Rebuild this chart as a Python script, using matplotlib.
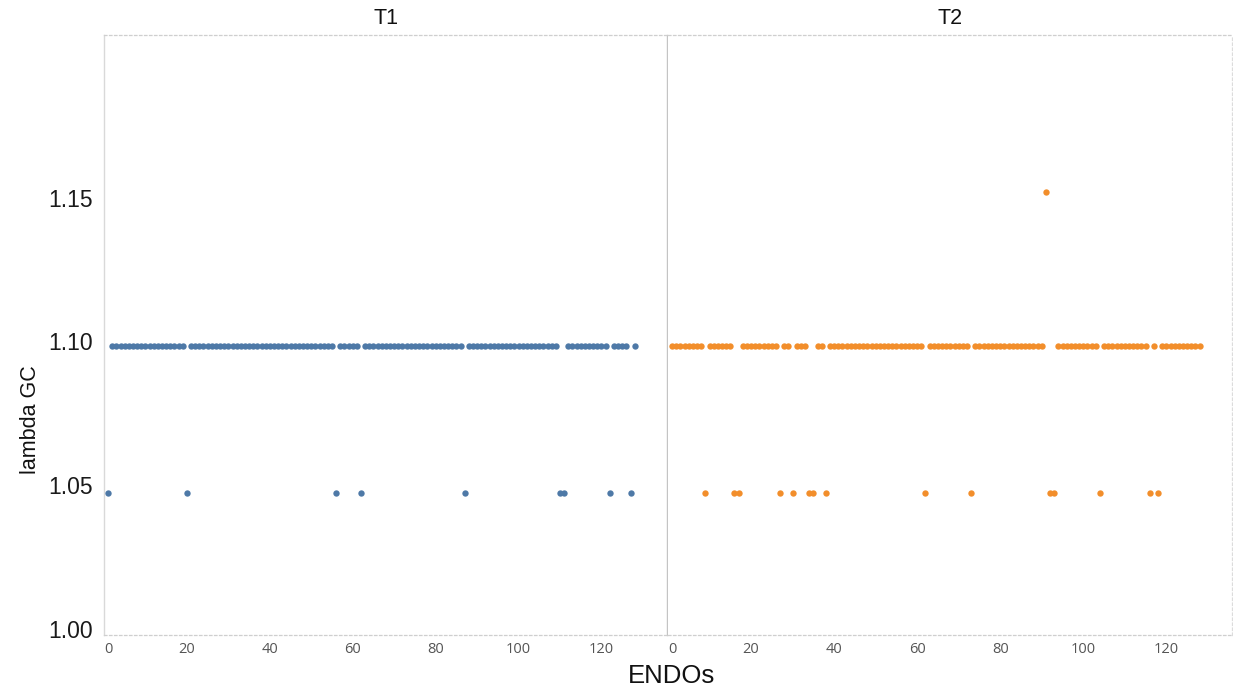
import matplotlib
matplotlib.use("Agg")
import matplotlib.pyplot as plt

# ENDO index (1..128) and genomic-control lambda for each panel
endo = list(range(1, 129))
panels = ["T1", "T2"]
colors = ["#4e79a7", "#f28e2b"]

t1_lambda = [
    1.0475, 1.0985, 1.0985, 1.0985, 1.0985, 1.0985, 1.0985, 1.0985, 1.0985, 1.0985, 1.0985, 1.0985, 1.0985, 1.0985, 1.0985, 1.0985,
    1.0985, 1.0985, 1.0985, 1.0475, 1.0985, 1.0985, 1.0985, 1.0985, 1.0985, 1.0985, 1.0985, 1.0985, 1.0985, 1.0985, 1.0985, 1.0985,
    1.0985, 1.0985, 1.0985, 1.0985, 1.0985, 1.0985, 1.0985, 1.0985, 1.0985, 1.0985, 1.0985, 1.0985, 1.0985, 1.0985, 1.0985, 1.0985,
    1.0985, 1.0985, 1.0985, 1.0985, 1.0985, 1.0985, 1.0985, 1.0475, 1.0985, 1.0985, 1.0985, 1.0985, 1.0985, 1.0475, 1.0985, 1.0985,
    1.0985, 1.0985, 1.0985, 1.0985, 1.0985, 1.0985, 1.0985, 1.0985, 1.0985, 1.0985, 1.0985, 1.0985, 1.0985, 1.0985, 1.0985, 1.0985,
    1.0985, 1.0985, 1.0985, 1.0985, 1.0985, 1.0985, 1.0475, 1.0985, 1.0985, 1.0985, 1.0985, 1.0985, 1.0985, 1.0985, 1.0985, 1.0985,
    1.0985, 1.0985, 1.0985, 1.0985, 1.0985, 1.0985, 1.0985, 1.0985, 1.0985, 1.0985, 1.0985, 1.0985, 1.0985, 1.0475, 1.0475, 1.0985,
    1.0985, 1.0985, 1.0985, 1.0985, 1.0985, 1.0985, 1.0985, 1.0985, 1.0985, 1.0475, 1.0985, 1.0985, 1.0985, 1.0985, 1.0475, 1.0985,
]

t2_lambda = [
    1.0985, 1.0985, 1.0985, 1.0985, 1.0985, 1.0985, 1.0985, 1.0985, 1.0475, 1.0985, 1.0985, 1.0985, 1.0985, 1.0985, 1.0985, 1.0475,
    1.0475, 1.0985, 1.0985, 1.0985, 1.0985, 1.0985, 1.0985, 1.0985, 1.0985, 1.0985, 1.0475, 1.0985, 1.0985, 1.0475, 1.0985, 1.0985,
    1.0985, 1.0475, 1.0475, 1.0985, 1.0985, 1.0475, 1.0985, 1.0985, 1.0985, 1.0985, 1.0985, 1.0985, 1.0985, 1.0985, 1.0985, 1.0985,
    1.0985, 1.0985, 1.0985, 1.0985, 1.0985, 1.0985, 1.0985, 1.0985, 1.0985, 1.0985, 1.0985, 1.0985, 1.0985, 1.0475, 1.0985, 1.0985,
    1.0985, 1.0985, 1.0985, 1.0985, 1.0985, 1.0985, 1.0985, 1.0985, 1.0475, 1.0985, 1.0985, 1.0985, 1.0985, 1.0985, 1.0985, 1.0985,
    1.0985, 1.0985, 1.0985, 1.0985, 1.0985, 1.0985, 1.0985, 1.0985, 1.0985, 1.0985, 1.1520, 1.0475, 1.0475, 1.0985, 1.0985, 1.0985,
    1.0985, 1.0985, 1.0985, 1.0985, 1.0985, 1.0985, 1.0985, 1.0475, 1.0985, 1.0985, 1.0985, 1.0985, 1.0985, 1.0985, 1.0985, 1.0985,
    1.0985, 1.0985, 1.0985, 1.0475, 1.0985, 1.0475, 1.0985, 1.0985, 1.0985, 1.0985, 1.0985, 1.0985, 1.0985, 1.0985, 1.0985, 1.0985,
]

x_ticks = [0, 20, 40, 60, 80, 100, 120]
y_ticks = [1.00, 1.05, 1.10, 1.15]
y_tick_labels = ["1.00", "1.05", "1.10", "1.15"]

W, H = 1233, 694
fig = plt.figure(figsize=(W / 100, H / 100), dpi=100)
fig.patch.set_facecolor("white")

top_px, bot_px = 35, 635
pane_edges = [(104, 667), (668, 1232)]
series = [t1_lambda, t2_lambda]

dotted = (0, (2, 2))
for i, ((x0, x1), vals) in enumerate(zip(pane_edges, series)):
    ax = fig.add_axes([x0 / W, 1 - bot_px / H, (x1 - x0) / W, (bot_px - top_px) / H])
    ax.scatter(endo, vals, s=21, color=colors[i], linewidths=0, zorder=3)
    ax.set_xlim(0, 135.8)
    ax.set_ylim(0.998, 1.2065)
    ax.set_xticks(x_ticks)
    labels = ax.set_xticklabels([str(t) for t in x_ticks], fontsize=10.5,
                                color="#555555", family="Open Sans")
    # the first label sits inside the pane instead of overhanging its edge
    labels[0].set_horizontalalignment("left")
    ax.tick_params(axis="x", length=0, pad=5)
    ax.tick_params(axis="y", length=0)
    for side in ("top", "bottom"):
        ax.spines[side].set_color("#cfcfcf")
        ax.spines[side].set_linewidth(0.9)
        ax.spines[side].set_linestyle(dotted)
    if i == 0:
        ax.set_yticks(y_ticks)
        ax.set_yticklabels(y_tick_labels, fontsize=16.5, color="#1a1a1a",
                           family="Liberation Sans")
        ax.tick_params(axis="y", pad=8)
        ax.spines["left"].set_color("#d9d9d9")
        ax.spines["left"].set_linewidth(1.0)
        ax.spines["right"].set_color("#c4c4c4")
        ax.spines["right"].set_linewidth(1.0)
    else:
        ax.set_yticks([])
        ax.spines["left"].set_visible(False)
        ax.spines["right"].set_color("#dcdcdc")
        ax.spines["right"].set_linewidth(0.9)
        ax.spines["right"].set_linestyle(dotted)
    fig.text(((x0 + x1) / 2) / W, 1 - 19 / H, panels[i], ha="center", va="center",
             fontsize=15.5, color="#111111", family="Liberation Sans")

fig.text(30 / W, 1 - 420 / H, "lambda GC", rotation=90, ha="center", va="center",
         fontsize=15.5, color="#111111", family="Liberation Sans")
fig.text(672 / W, 1 - 676 / H, "ENDOs", ha="center", va="center",
         fontsize=18.5, color="#111111", family="Liberation Sans")

fig.savefig("out.png", dpi=100, facecolor="white")
